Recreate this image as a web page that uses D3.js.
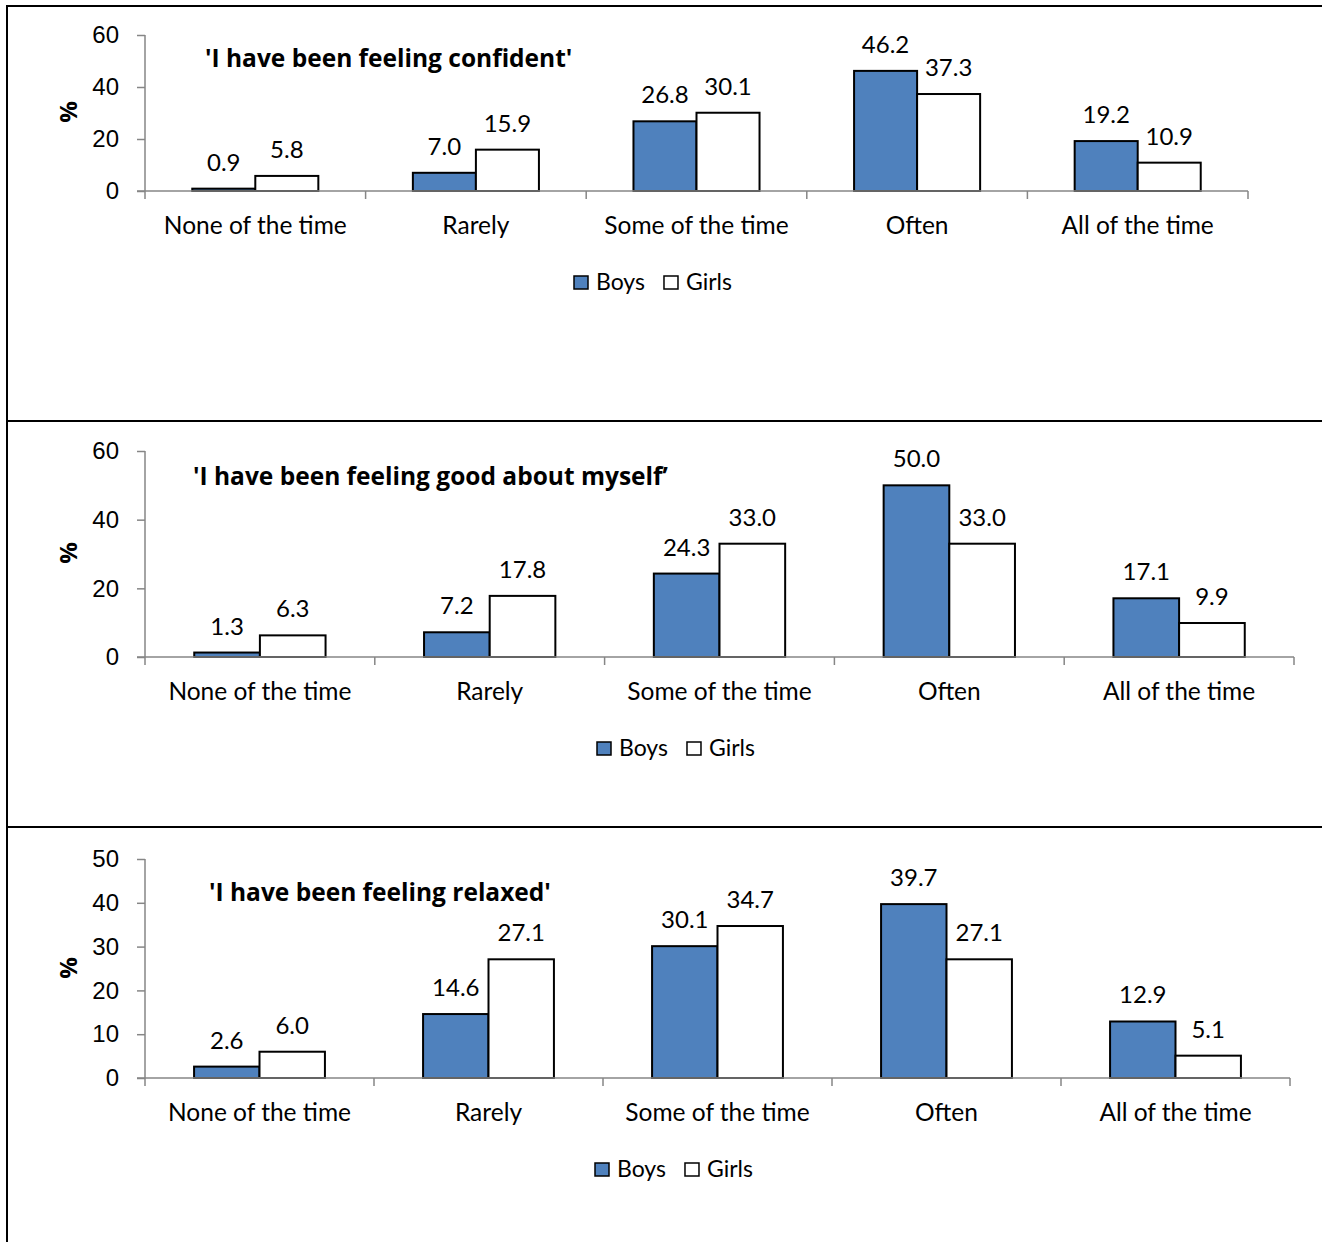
<!DOCTYPE html>
<html>
<head>
<meta charset="utf-8">
<script src="https://cdn.jsdelivr.net/npm/d3@7"></script>
<style>
  html, body { margin: 0; padding: 0; background: #fff; }
  svg { display: block; font-family: Lato, "Open Sans", sans-serif; }
  .bold { font-family: "Open Sans", Lato, sans-serif; font-weight: bold; }
</style>
</head>
<body>
<script>
// Response categories shared by all three items
const categories = ["None of the time", "Rarely", "Some of the time", "Often", "All of the time"];
const seriesNames = ["Boys", "Girls"];

// Percentages by sex for each statement
const confidentBoys  = [0.9, 7.0, 26.8, 46.2, 19.2];
const confidentGirls = [5.8, 15.9, 30.1, 37.3, 10.9];
const goodBoys       = [1.3, 7.2, 24.3, 50.0, 17.1];
const goodGirls      = [6.3, 17.8, 33.0, 33.0, 9.9];
const relaxedBoys    = [2.6, 14.6, 30.1, 39.7, 12.9];
const relaxedGirls   = [6.0, 27.1, 34.7, 27.1, 5.1];

// Y-axis tick labels
const ticks60 = [0, 20, 40, 60];
const ticks50 = [0, 10, 20, 30, 40, 50];

const titles = [
  "'I have been feeling confident'",
  "'I have been feeling good about myself\u2019",
  "'I have been feeling relaxed'"
];

const W = 1322, H = 1242;
const svg = d3.select("body").append("svg").attr("width", W).attr("height", H);

const colors = { Boys: "#4F81BD", Girls: "#FFFFFF" };
const axisColor = "#868686";

// Frame: top, left, and separators between the three panels
const frame = svg.append("g").attr("stroke", "#000").attr("stroke-width", 2);
frame.append("line").attr("x1", 6).attr("x2", W).attr("y1", 6).attr("y2", 6);
frame.append("line").attr("x1", 7).attr("x2", 7).attr("y1", 5).attr("y2", H);
frame.append("line").attr("x1", 6).attr("x2", W).attr("y1", 421).attr("y2", 421);
frame.append("line").attr("x1", 6).attr("x2", W).attr("y1", 827).attr("y2", 827);

const panels = [
  { boys: confidentBoys, girls: confidentGirls, ticks: ticks60, max: 60,
    x0: 145, x1: 1248, yTop: 35, yBot: 191, titleX: 205, titleY: 67, legendX: 574, labelY: 112 },
  { boys: goodBoys, girls: goodGirls, ticks: ticks60, max: 60,
    x0: 145, x1: 1294, yTop: 451, yBot: 657, titleX: 193, titleY: 485, legendX: 597, labelY: 553 },
  { boys: relaxedBoys, girls: relaxedGirls, ticks: ticks50, max: 50,
    x0: 145, x1: 1290, yTop: 859, yBot: 1078, titleX: 209, titleY: 901, legendX: 595, labelY: 968 }
];

const fmt = d3.format(".1f");

panels.forEach((p, i) => {
  const g = svg.append("g");

  const x = d3.scaleBand().domain(categories).range([p.x0, p.x1]).padding(0);
  const xs = d3.scaleBand().domain(seriesNames).range([0, x.bandwidth()])
    .paddingInner(0).paddingOuter(0.75);
  const y = d3.scaleLinear().domain([0, p.max]).range([p.yBot, p.yTop]);

  // Y axis
  const yAxis = g.append("g").attr("transform", `translate(${p.x0},0)`)
    .call(d3.axisLeft(y).tickValues(p.ticks).tickSize(8).tickPadding(18).tickFormat(d3.format("d")));
  yAxis.select(".domain").attr("stroke", axisColor).attr("stroke-width", 1.5)
    .attr("d", `M0,${p.yTop}V${p.yBot}`);
  yAxis.selectAll(".tick line").attr("stroke", axisColor).attr("stroke-width", 1.5);
  yAxis.selectAll(".tick text").attr("fill", "#000").style("font-size", "24px");

  // Bars
  const rows = categories.map((c, k) => ({ cat: c, vals: [
    { s: "Boys", v: p.boys[k] }, { s: "Girls", v: p.girls[k] } ] }));

  const groups = g.append("g").selectAll("g").data(rows).join("g")
    .attr("transform", d => `translate(${x(d.cat)},0)`);

  groups.selectAll("rect").data(d => d.vals).join("rect")
    .attr("x", d => xs(d.s))
    .attr("y", d => y(d.v))
    .attr("width", xs.bandwidth())
    .attr("height", d => y(0) - y(d.v))
    .attr("fill", d => colors[d.s])
    .attr("stroke", "#000")
    .attr("stroke-width", 2);

  groups.selectAll("text.val").data(d => d.vals).join("text")
    .attr("class", "val")
    .attr("x", d => xs(d.s) + xs.bandwidth() / 2)
    .attr("y", d => y(d.v) - 18)
    .attr("text-anchor", "middle")
    .style("font-size", "24px")
    .text(d => fmt(d.v));

  // X axis with category boundary ticks
  const xg = g.append("g");
  xg.append("line").attr("x1", p.x0 - 8).attr("x2", p.x1).attr("y1", p.yBot).attr("y2", p.yBot)
    .attr("stroke", axisColor).attr("stroke-width", 1.5);
  const bounds = categories.map(c => x(c)).concat([p.x1]);
  xg.selectAll("line.b").data(bounds).join("line").attr("class", "b")
    .attr("x1", d => d).attr("x2", d => d).attr("y1", p.yBot).attr("y2", p.yBot + 8)
    .attr("stroke", axisColor).attr("stroke-width", 1.5);
  xg.selectAll("text").data(categories).join("text")
    .attr("x", d => x(d) + x.bandwidth() / 2)
    .attr("y", p.yBot + 43)
    .attr("text-anchor", "middle")
    .style("font-size", "24.5px")
    .text(d => d);

  // Axis title
  g.append("text").attr("class", "bold")
    .attr("transform", `translate(77,${p.labelY}) rotate(-90)`)
    .attr("text-anchor", "middle")
    .style("font-size", "24px")
    .text("%");

  // Chart title
  g.append("text").attr("class", "bold").attr("x", p.titleX).attr("y", p.titleY)
    .style("font-size", "24.5px")
    .text(titles[i]);

  // Legend
  const lg = g.append("g").attr("transform", `translate(${p.legendX},${p.yBot + 85})`);
  let lx = 0;
  seriesNames.forEach(s => {
    lg.append("rect").attr("x", lx).attr("y", 0).attr("width", 14).attr("height", 13)
      .attr("fill", colors[s]).attr("stroke", "#000").attr("stroke-width", 1.5);
    const t = lg.append("text").attr("x", lx + 22).attr("y", 14)
      .style("font-size", "23px").text(s);
    lx += 22 + t.node().getComputedTextLength() + 19;
  });
});
</script>
</body>
</html>
